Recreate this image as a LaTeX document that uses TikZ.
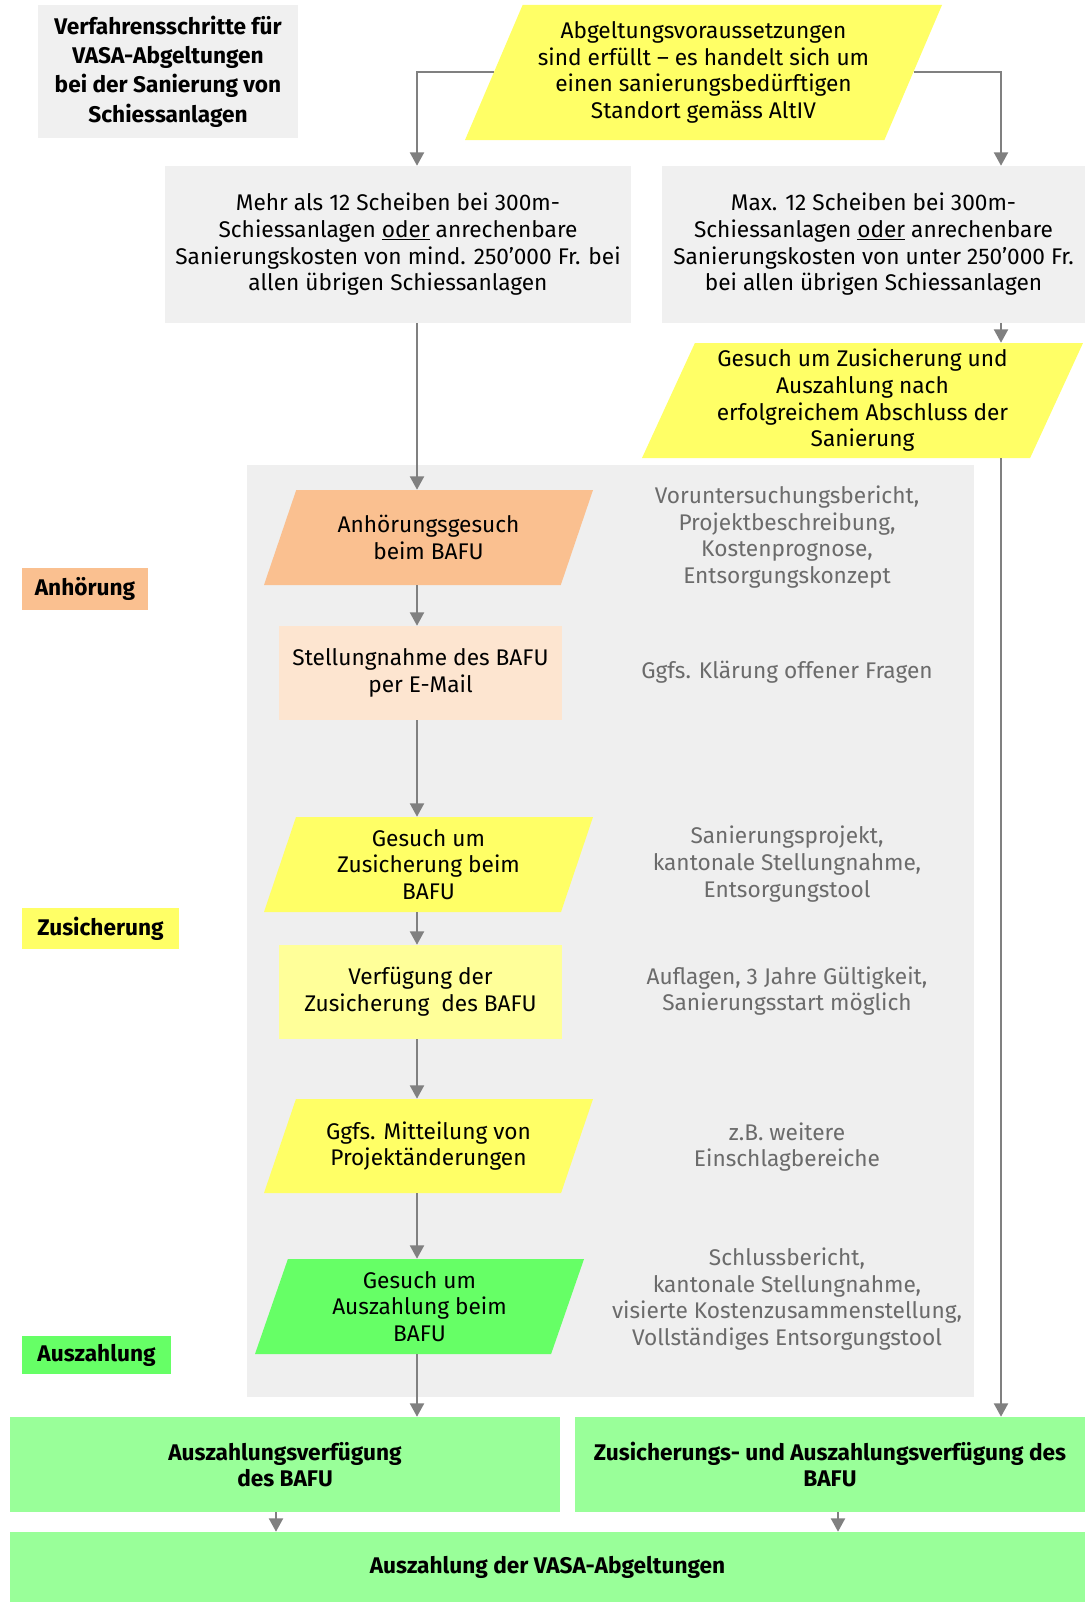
\documentclass[tikz,border=0pt]{standalone}
\usepackage{fontspec}
\setmainfont{Fira Sans}
\usetikzlibrary{shapes.geometric,arrows.meta}

\definecolor{boxgrey}{HTML}{F0F0F0}
\definecolor{areagrey}{HTML}{EFEFEF}
\definecolor{notegrey}{HTML}{6B6B6B}
\definecolor{linegrey}{HTML}{808080}
\definecolor{yel}{HTML}{FFFF66}
\definecolor{paleyel}{HTML}{FFFF99}
\definecolor{orng}{HTML}{FAC090}
\definecolor{peach}{HTML}{FDE5D0}
\definecolor{grn}{HTML}{66FF66}
\definecolor{palegrn}{HTML}{99FF99}

\tikzset{
  txt/.style={font=\fontsize{17}{20}\selectfont, align=center, inner sep=0pt},
  bold/.style={font=\fontsize{17}{20}\selectfont\bfseries, align=center, inner sep=0pt},
  box/.style={rectangle, draw=none},
  para/.style={txt, trapezium, draw=none, trapezium stretches body},
  note/.style={txt, text=notegrey},
  arr/.style={draw=linegrey, line width=1.5pt, -{Triangle[length=10pt,width=10.5pt]}}
}

\begin{document}
\begin{tikzpicture}[x=0.75pt, y=-0.75pt]
  \useasboundingbox (0,0) rectangle (1087,1602);
  \coordinate (col) at (417,0);
  \coordinate (colr) at (1001,0);

  % grey area of the normal procedure
  \fill[areagrey] (247,465) rectangle (974,1397);

  \node[bold, box, fill=boxgrey, minimum width=195pt, minimum height=99.75pt, font=\fontsize{17}{22}\selectfont\bfseries]
    (title) at (168,71.5) {Verfahrensschritte für\\VASA-Abgeltungen\\bei der Sanierung von\\Schiessanlagen};
  \node[para, fill=yel, trapezium left angle=60.5, trapezium right angle=119.5, minimum width=357.75pt, minimum height=101.25pt]
    (cond) at (703.5,72.5) {Abgeltungsvoraussetzungen\\sind erfüllt -- es handelt sich um\\einen sanierungsbedürftigen\\Standort gemäss AltIV};

  \node[txt, box, fill=boxgrey, minimum width=349.5pt, minimum height=117.75pt]
    (mehr) at (398,244.5) {Mehr als 12 Scheiben bei 300m-\\Schiessanlagen \underline{oder} anrechenbare\\Sanierungskosten von mind. 250’000 Fr. bei\\allen übrigen Schiessanlagen};
  \node[txt, box, fill=boxgrey, minimum width=317.25pt, minimum height=117.75pt]
    (max) at (873.5,244.5) {Max. 12 Scheiben bei 300m-\\Schiessanlagen \underline{oder} anrechenbare\\Sanierungskosten von unter 250’000 Fr.\\bei allen übrigen Schiessanlagen};
  \node[para, fill=yel, trapezium left angle=62.7, trapezium right angle=117.3, minimum width=330.75pt, minimum height=86.25pt]
    (gesuch) at (862.5,400.5) {Gesuch um Zusicherung und\\Auszahlung nach\\erfolgreichem Abschluss der\\Sanierung};

  % Anhoerung
  \node[para, fill=orng, trapezium left angle=54, trapezium right angle=126, minimum width=246.75pt, minimum height=71.25pt]
    (anh) at (428.5,537.5) {Anhörungsgesuch\\beim BAFU};
  \node[txt, box, fill=peach, minimum width=212.25pt, minimum height=70.5pt]
    (stell) at (420.5,673) {Stellungnahme des BAFU\\per E-Mail};
  \node[bold, box, fill=orng, minimum width=94.5pt, minimum height=31.5pt]
    (taganh) at (85,589) {Anhörung};

  % Zusicherung
  \node[para, fill=yel, trapezium left angle=65.6, trapezium right angle=114.4, minimum width=246.75pt, minimum height=71.25pt]
    (zus) at (428.5,864.5) {Gesuch um\\Zusicherung beim\\BAFU};
  \node[txt, box, fill=paleyel, minimum width=212.25pt, minimum height=70.5pt]
    (verf) at (420.5,992) {Verfügung der\\Zusicherung \ des BAFU};
  \node[bold, box, fill=yel, minimum width=117.75pt, minimum height=30.75pt]
    (tagzus) at (100.5,928.5) {Zusicherung};
  \node[para, fill=yel, trapezium left angle=57, trapezium right angle=123, minimum width=246.75pt, minimum height=70.5pt]
    (mitt) at (428.5,1146) {Ggfs. Mitteilung von\\Projektänderungen};

  % Auszahlung
  \node[para, fill=grn, trapezium left angle=65, trapezium right angle=115, minimum width=246.75pt, minimum height=71.25pt]
    (ausz) at (419.5,1306.5) {Gesuch um\\Auszahlung beim\\BAFU};
  \node[bold, box, fill=grn, minimum width=111.75pt, minimum height=28.5pt]
    (tagausz) at (96.5,1355) {Auszahlung};

  \node[bold, box, fill=palegrn, minimum width=412.5pt, minimum height=71.25pt]
    (ausv) at (285,1464.5) {Auszahlungsverfügung\\des BAFU};
  \node[bold, box, fill=palegrn, minimum width=382.5pt, minimum height=71.25pt]
    (zausv) at (830,1464.5) {Zusicherungs- und Auszahlungsverfügung des\\BAFU};
  \node[bold, box, fill=palegrn, minimum width=806.25pt, minimum height=52.5pt]
    (final) at (547.5,1567) {Auszahlung der VASA-Abgeltungen};

  % notes
  \node[note] (n1) at (787,537) {Voruntersuchungsbericht,\\Projektbeschreibung,\\Kostenprognose,\\Entsorgungskonzept};
  \node[note] (n2) at (787,672) {Ggfs. Klärung offener Fragen};
  \node[note] (n3) at (787,864) {Sanierungsprojekt,\\kantonale Stellungnahme,\\Entsorgungstool};
  \node[note] (n4) at (787,991) {Auflagen, 3 Jahre Gültigkeit,\\Sanierungsstart möglich};
  \node[note] (n5) at (787,1147) {z.B. weitere\\Einschlagbereiche};
  \node[note] (n6) at (787,1299) {Schlussbericht,\\kantonale Stellungnahme,\\visierte Kostenzusammenstellung,\\Vollständiges Entsorgungstool};

  % connectors
  \draw[arr] (cond.west) -| (mehr.north -| col);
  \draw[arr] (cond.east) -| (max.north -| colr);
  \draw[arr] (max.south -| colr) -- (gesuch.north -| colr);
  \draw[arr] (gesuch.south -| colr) -- (zausv.north -| colr);
  \draw[arr] (mehr.south -| col) -- (anh.north -| col);
  \draw[arr] (anh.south -| col) -- (stell.north -| col);
  \draw[arr] (stell.south -| col) -- (zus.north -| col);
  \draw[arr] (zus.south -| col) -- (verf.north -| col);
  \draw[arr] (verf.south -| col) -- (mitt.north -| col);
  \draw[arr] (mitt.south -| col) -- (ausz.north -| col);
  \draw[arr] (ausz.south -| col) -- (ausv.north -| col);
  \draw[arr] ([xshift=-6.75pt]ausv.south) -- ([xshift=-6.75pt]ausv.south |- final.north);
  \draw[arr] ([xshift=6pt]zausv.south) -- ([xshift=6pt]zausv.south |- final.north);
\end{tikzpicture}
\end{document}
